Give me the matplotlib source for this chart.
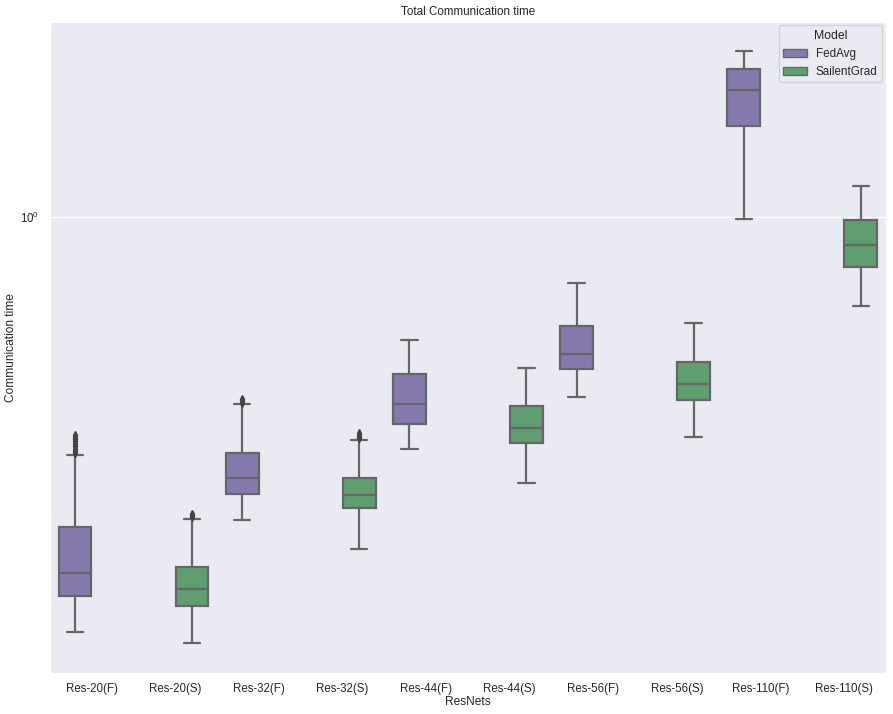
import matplotlib
matplotlib.use("Agg")
import matplotlib.pyplot as plt
from matplotlib.patches import Patch
import seaborn as sns

# Box statistics (log-scaled y axis)
categories = ["Res-20(F)", "Res-20(S)", "Res-32(F)", "Res-32(S)", "Res-44(F)",
              "Res-44(S)", "Res-56(F)", "Res-56(S)", "Res-110(F)", "Res-110(S)"]
models = ["FedAvg", "SailentGrad", "FedAvg", "SailentGrad", "FedAvg",
          "SailentGrad", "FedAvg", "SailentGrad", "FedAvg", "SailentGrad"]
whislo = [0.170, 0.162, 0.275, 0.242, 0.372, 0.321, 0.465, 0.391, 0.993, 0.686]
q1 = [0.198, 0.190, 0.307, 0.289, 0.414, 0.381, 0.524, 0.459, 1.476, 0.810]
med = [0.219, 0.204, 0.329, 0.305, 0.451, 0.406, 0.558, 0.490, 1.721, 0.889]
q3 = [0.266, 0.225, 0.366, 0.328, 0.513, 0.446, 0.629, 0.540, 1.882, 0.989]
whishi = [0.362, 0.276, 0.450, 0.387, 0.593, 0.526, 0.756, 0.638, 2.032, 1.144]
fliers = [
    [0.365, 0.368, 0.372, 0.376, 0.380, 0.384, 0.388, 0.391, 0.394],
    [0.278, 0.280, 0.282],
    [0.453, 0.457, 0.460],
    [0.389, 0.392, 0.395, 0.398],
    [], [], [], [], [], [],
]

colors = {"FedAvg": "#857aab", "SailentGrad": "#5f9e6e"}
gray = "#666666"

sns.set_style("darkgrid")
plt.rcParams["font.family"] = ["Liberation Sans", "DejaVu Sans"]

fig = plt.figure(figsize=(8.93, 7.14), dpi=100)
ax = fig.add_axes([0.056, 0.0574, 0.936, 0.912])

stats = []
positions = []
for i, cat in enumerate(categories):
    stats.append({"whislo": whislo[i], "q1": q1[i], "med": med[i], "q3": q3[i],
                  "whishi": whishi[i], "fliers": fliers[i]})
    positions.append(i - 0.2 if models[i] == "FedAvg" else i + 0.2)

bp = ax.bxp(stats, positions=positions, widths=0.392, patch_artist=True,
            showfliers=True,
            boxprops=dict(edgecolor=gray, linewidth=1.6),
            whiskerprops=dict(color=gray, linewidth=1.6),
            capprops=dict(color=gray, linewidth=1.6),
            medianprops=dict(color=gray, linewidth=1.6),
            flierprops=dict(marker="d", markersize=4, markerfacecolor="#444444",
                            markeredgecolor="#444444", linestyle="none"))
for box, m in zip(bp["boxes"], models):
    box.set_facecolor(colors[m])

ax.set_yscale("log")
ax.set_xlim(-0.5, len(categories) - 0.5)
ax.set_xticks(range(len(categories)))
ax.set_xticklabels(categories)
ax.xaxis.grid(False)
ax.yaxis.grid(True, which="major")
ax.tick_params(axis="both", labelsize=8.3, length=0)
ax.tick_params(axis="x", pad=7)
ax.tick_params(axis="y", pad=8)
ax.tick_params(axis="y", which="minor", length=0)

ax.set_title("Total Communication time", fontsize=8.4, pad=5)
ax.set_xlabel("ResNets", fontsize=8.6, labelpad=1)
ax.set_ylabel("Communication time", fontsize=8.6, labelpad=2)

handles = [Patch(facecolor=colors["FedAvg"], edgecolor=gray, label="FedAvg"),
           Patch(facecolor=colors["SailentGrad"], edgecolor=gray, label="SailentGrad")]
ax.legend(handles=handles, title="Model", loc="upper right", fontsize=8.4,
          title_fontsize=8.8, borderaxespad=0.3)

fig.savefig("out.png", dpi=100)
